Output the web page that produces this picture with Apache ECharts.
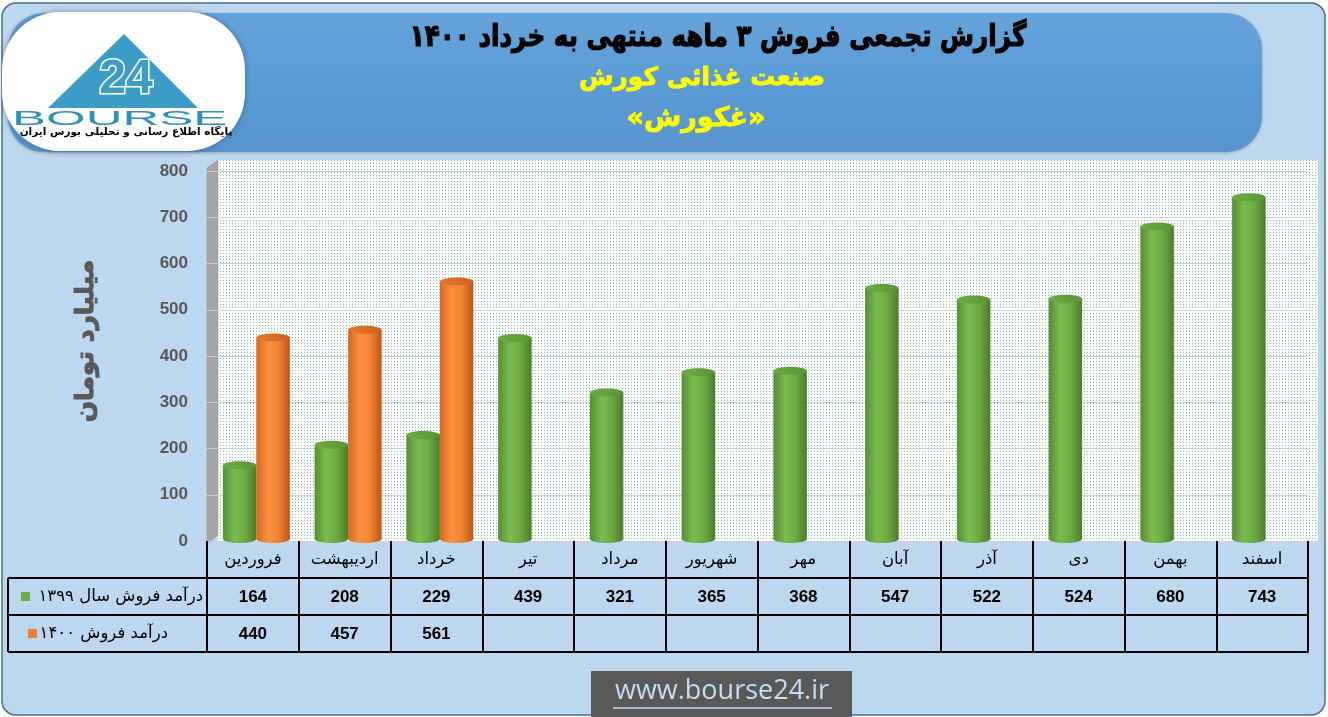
<!DOCTYPE html>
<html><head><meta charset="utf-8">
<script src="https://cdn.jsdelivr.net/npm/echarts@6/dist/echarts.min.js"></script>
<style>html,body{margin:0;padding:0;background:#fff}#c{width:1328px;height:717px}</style>
</head><body><div id="c"></div>
<script>
// ---- data ----
const months = ['فروردین','اردیبهشت','خرداد','تیر','مرداد','شهریور','مهر','آبان','آذر','دی','بهمن','اسفند'];
const sales1399 = [164,208,229,439,321,365,368,547,522,524,680,743];
const sales1400 = [440,457,561,null,null,null,null,null,null,null,null,null];
const seriesNames = ['درآمد فروش سال ۱۳۹۹','درآمد فروش ۱۴۰۰'];
const yMin = 0, yMax = 800, yStep = 100;
const titleText = 'گزارش تجمعی فروش ۳ ماهه منتهی به خرداد ۱۴۰۰';
const subTitle1 = 'صنعت غذائی کورش';
const subTitle2 = '«غکورش»';
const yName = 'میلیارد تومان';
const logoWord = 'BOURSE';
const logoMark = '24';
const logoSub = 'پایگاه اطلاع رسانی و تحلیلی بورس ایران';
const siteUrl = 'www.bourse24.ir';

// ---- layout ----
const W = 1328, H = 717;
const GL = 207, GR = 1308, GT = 171, GB = 541, ROW = 37, TL = 8;
const FA = "'DejaVu Sans', 'Noto Sans', sans-serif";
const NUM = "'Liberation Sans', Arial, sans-serif";

const chart = echarts.init(document.getElementById('c'), null, {renderer:'canvas', width:W, height:H});

// dotted pattern
const pc = document.createElement('canvas'); pc.width = 3; pc.height = 3;
const pctx = pc.getContext('2d');
pctx.fillStyle = '#FDFEFD'; pctx.fillRect(0,0,3,3);
pctx.fillStyle = '#86C4AA'; pctx.fillRect(1,1,1,1);

function cylinder(side, stops, topStops){
  return function(params, api){
    const i = api.value(0), v = api.value(1);
    const band = api.size([1,0])[0];
    const w = band*0.365;
    const b = api.coord([i,0]); const t = api.coord([i,v]);
    const cx = b[0] + side*w/2 + band*0.038;
    const ry = 4;
    const grad = {type:'linear',x:0,y:0,x2:1,y2:0,colorStops:stops};
    const tg = {type:'linear',x:0,y:0,x2:1,y2:0,colorStops:topStops};
    return {type:'group', children:[
      {type:'ellipse', shape:{cx:cx, cy:b[1]-2, rx:w/2, ry:ry}, style:{fill:grad}},
      {type:'rect', shape:{x:cx-w/2, y:t[1], width:w, height:b[1]-2-t[1]}, style:{fill:grad}},
      {type:'ellipse', shape:{cx:cx, cy:t[1], rx:w/2, ry:ry}, style:{fill:tg}}
    ]};
  };
}
const greenStops = [{offset:0,color:'#568F33'},{offset:0.35,color:'#7BBB4F'},{offset:0.65,color:'#6FAA45'},{offset:1,color:'#4A7C2B'}];
const greenTop = [{offset:0,color:'#6EAB45'},{offset:1,color:'#5A9436'}];
const orangeStops = [{offset:0,color:'#D7671F'},{offset:0.35,color:'#F8923F'},{offset:0.65,color:'#F28533'},{offset:1,color:'#B8561A'}];
const orangeTop = [{offset:0,color:'#E5772C'},{offset:1,color:'#CC621F'}];

const tableAxis = (labels, offset, opts) => Object.assign({
  type:'category', data:labels, position:'bottom', offset:offset, gridIndex:0,
  axisLine:{show:true, lineStyle:{color:'#000', width:2}},
  axisTick:{show:true, length:ROW, interval:0, lineStyle:{color:'#000', width:2}},
  axisLabel:{show:true, interval:0, color:'#000', fontFamily:NUM, fontWeight:'bold', fontSize:17, margin:11},
  splitLine:{show:false}
}, opts || {});

const graphics = [
  // frame
  {type:'rect', z:-20, shape:{x:2, y:3, width:1323, height:712, r:14}, style:{fill:'#BDD7EE', stroke:'#41719C', lineWidth:1.5}},
  // banner
  {type:'rect', z:-19, shape:{x:8, y:13, width:1254, height:139, r:36},
    style:{fill:{type:'linear',x:0,y:0,x2:0,y2:1,colorStops:[{offset:0,color:'#66A3DA'},{offset:0.5,color:'#5B9BD5'},{offset:1,color:'#5894CE'}]}, shadowBlur:3, shadowColor:'rgba(0,0,0,0.25)', shadowOffsetY:1}},
  // dotted back wall
  {type:'rect', z:-18, shape:{x:218, y:160, width:1100, height:GB-160}, style:{fill:{image:pc, repeat:'repeat'}}},
  // left wall
  {type:'polygon', z:-17, shape:{points:[[GL,168],[218,160],[218,GB-6],[GL,GB+3]]}, style:{fill:'#A6A6A6', stroke:'#8C8C8C', lineWidth:0.5}},
  // logo
  {type:'rect', z:-16, shape:{x:2, y:12, width:243, height:139, r:58},
    style:{fill:'#FFFFFF', shadowBlur:6, shadowColor:'rgba(0,0,0,0.3)'}},
  {type:'polygon', z:-15, shape:{points:[[124,34],[198,108],[48,108]]}, style:{fill:'#3C9CC6'}},
  {type:'text', z:-14, style:{text:logoMark, x:126, y:80, fill:'#3C9CC6', stroke:'#FFFFFF', lineWidth:3, font:'bold 48px ' + NUM, align:'center', verticalAlign:'middle'}},
  {type:'text', z:-14, scaleX:2.55, x:12, y:119, style:{text:logoWord, x:0, y:0, fill:'#2F8FB8', font:'20px ' + NUM, align:'left', verticalAlign:'middle'}},
  {type:'text', z:-14, style:{text:logoSub, x:126, y:132, fill:'#000', font:'bold 10.5px ' + FA, align:'center', verticalAlign:'middle'}},
  // titles
  {type:'text', x:718, y:38, scaleX:0.82, style:{text:titleText, x:0, y:0, fill:'#000', stroke:'#000', lineWidth:1.2, font:'bold 30px ' + FA, align:'center', verticalAlign:'middle'}},
  {type:'text', style:{text:subTitle1, x:702, y:78, fill:'#FFFF00', stroke:'#FFFF00', lineWidth:0.8, font:'bold 25px ' + FA, align:'center', verticalAlign:'middle'}},
  {type:'text', style:{text:subTitle2, x:696, y:119, fill:'#FFFF00', stroke:'#FFFF00', lineWidth:0.8, font:'bold 27px ' + FA, align:'center', verticalAlign:'middle'}},
  // y axis name
  {type:'text', x:86, y:341, rotation:Math.PI/2, style:{text:yName, x:0, y:0, fill:'#595959', stroke:'#595959', lineWidth:1, font:'bold 25px ' + FA, align:'center', verticalAlign:'middle'}},
  // table legend column
  {type:'line', shape:{x1:TL, y1:GB+ROW, x2:GL, y2:GB+ROW}, style:{stroke:'#000', lineWidth:2}},
  {type:'line', shape:{x1:TL, y1:GB+2*ROW, x2:GL, y2:GB+2*ROW}, style:{stroke:'#000', lineWidth:2}},
  {type:'line', shape:{x1:TL, y1:GB+3*ROW, x2:GL, y2:GB+3*ROW}, style:{stroke:'#000', lineWidth:2}},
  {type:'line', shape:{x1:TL, y1:GB+ROW, x2:TL, y2:GB+3*ROW}, style:{stroke:'#000', lineWidth:2}},
  {type:'rect', shape:{x:21, y:GB+ROW+14, width:9, height:9}, style:{fill:'#70AD47'}},
  {type:'text', style:{text:seriesNames[0], x:203, y:GB+ROW*1.5, fill:'#000', font:'16.5px ' + FA, align:'right', verticalAlign:'middle'}},
  {type:'rect', shape:{x:28, y:GB+2*ROW+14, width:9, height:9}, style:{fill:'#ED7D31'}},
  {type:'text', style:{text:seriesNames[1], x:168, y:GB+ROW*2.5, fill:'#000', font:'16.5px ' + FA, align:'right', verticalAlign:'middle'}},
  // url box
  {type:'rect', shape:{x:591, y:671, width:261, height:46}, style:{fill:'#595959'}},
  {type:'text', style:{text:siteUrl, x:722, y:691, fill:'#C5DDF2', font:'27px "Open Sans", sans-serif', align:'center', verticalAlign:'middle'}},
  {type:'line', shape:{x1:613, y1:708, x2:832, y2:708}, style:{stroke:'#C5DDF2', lineWidth:1.5}}
];

const option = {
  backgroundColor:'#FFFFFF',
  animation:false,
  grid:{left:GL, right:W-GR, top:GT, bottom:H-GB, outerBoundsMode:'none', containLabel:false},
  xAxis:[
    tableAxis(months, 0, {axisLine:{show:false}, axisLabel:{show:true, interval:0, color:'#000', fontFamily:FA, fontSize:16.5, margin:10}}),
    tableAxis(sales1399.map(v => v == null ? '' : String(v)), ROW),
    tableAxis(sales1400.map(v => v == null ? '' : String(v)), 2*ROW),
    tableAxis(months, 3*ROW, {axisTick:{show:false}, axisLabel:{show:false}})
  ],
  yAxis:{
    type:'value', min:yMin, max:yMax, interval:yStep,
    axisLine:{show:false}, axisTick:{show:false},
    axisLabel:{color:'#595959', fontFamily:NUM, fontWeight:'bold', fontSize:17, margin:19},
    splitLine:{lineStyle:{color:'#CFCFCF', width:1}}
  },
  series:[
    {type:'custom', name:seriesNames[0], xAxisIndex:0, encode:{x:0,y:1},
      data:sales1399.map((v,i)=>[i,v]).filter(d=>d[1]!=null),
      renderItem:cylinder(-1, greenStops, greenTop), z:3},
    {type:'custom', name:seriesNames[1], xAxisIndex:0, encode:{x:0,y:1},
      data:sales1400.map((v,i)=>[i,v]).filter(d=>d[1]!=null),
      renderItem:cylinder(1, orangeStops, orangeTop), z:3}
  ],
  graphic:{elements:graphics}
};
chart.setOption(option);
</script></body></html>
